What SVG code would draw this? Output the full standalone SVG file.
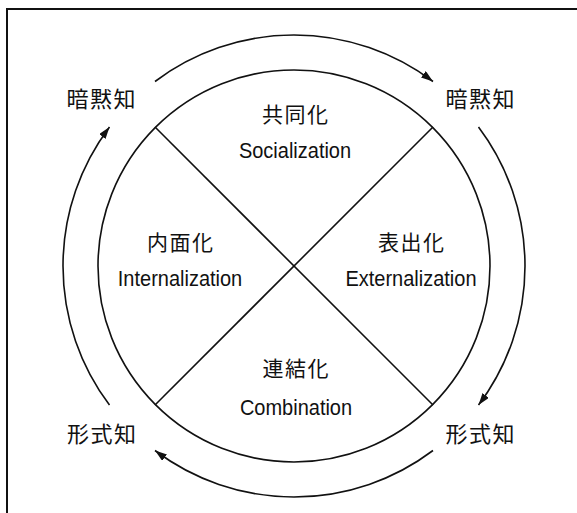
<svg xmlns="http://www.w3.org/2000/svg" width="577" height="513" viewBox="0 0 577 513">
<style>
.ln{fill:none;stroke:#111;stroke-width:1.6}
.arc{fill:none;stroke:#111;stroke-width:1.6;marker-end:url(#ah)}
.jp{font-family:"Noto Sans CJK JP","Noto Sans CJK SC",sans-serif;fill:#111;text-anchor:middle;dominant-baseline:central}
.jo{font-size:22px;letter-spacing:1.5px}
.ji{font-size:21px;letter-spacing:1.5px}
.en{font-family:"Liberation Sans",Arial,sans-serif;font-size:20px;fill:#111;text-anchor:middle}
</style>
<defs>
<marker id="ah" markerUnits="userSpaceOnUse" markerWidth="12" markerHeight="8" refX="12" refY="4" orient="auto">
<path d="M0,0 L12,4 L0,8 z" fill="#111"/>
</marker>
</defs>
<rect x="0" y="0" width="577" height="513" fill="#fff"/>
<path d="M7,513 L7,9 L577,9" fill="none" stroke="#111" stroke-width="2"/>
<g id="circle">
<circle class="ln" cx="294" cy="266" r="196"/>
</g>
<g id="connectors">
<path class="ln" d="M155,127 L433,405"/>
<path class="ln" d="M433,127 L155,405"/>
<path class="arc" d="M155,81.5 A231,231 0 0 1 433,81.5"/>
<path class="arc" d="M478.5,127 A231,231 0 0 1 478.5,405"/>
<path class="arc" d="M433,450.5 A231,231 0 0 1 155,450.5"/>
<path class="arc" d="M109.5,405 A231,231 0 0 1 109.5,127"/>
</g>
<g id="tacit-tl"><text class="jp jo" x="101.8" y="96.5">暗黙知</text></g>
<g id="tacit-tr"><text class="jp jo" x="480.8" y="96.5">暗黙知</text></g>
<g id="explicit-bl"><text class="jp jo" x="102.3" y="432">形式知</text></g>
<g id="explicit-br"><text class="jp jo" x="480.8" y="432">形式知</text></g>
<g id="socialization">
<text class="jp ji" x="295.8" y="113">共同化</text>
<text class="en" transform="translate(295,158) scale(1,1.08)">Socialization</text>
</g>
<g id="internalization">
<text class="jp ji" x="180.8" y="240.5">内面化</text>
<text class="en" transform="translate(180,286) scale(1,1.08)">Internalization</text>
</g>
<g id="externalization">
<text class="jp ji" x="411.8" y="240.5">表出化</text>
<text class="en" transform="translate(411,286) scale(1,1.08)">Externalization</text>
</g>
<g id="combination">
<text class="jp ji" x="296.3" y="367">連結化</text>
<text class="en" transform="translate(296,415) scale(1,1.08)">Combination</text>
</g>
</svg>
